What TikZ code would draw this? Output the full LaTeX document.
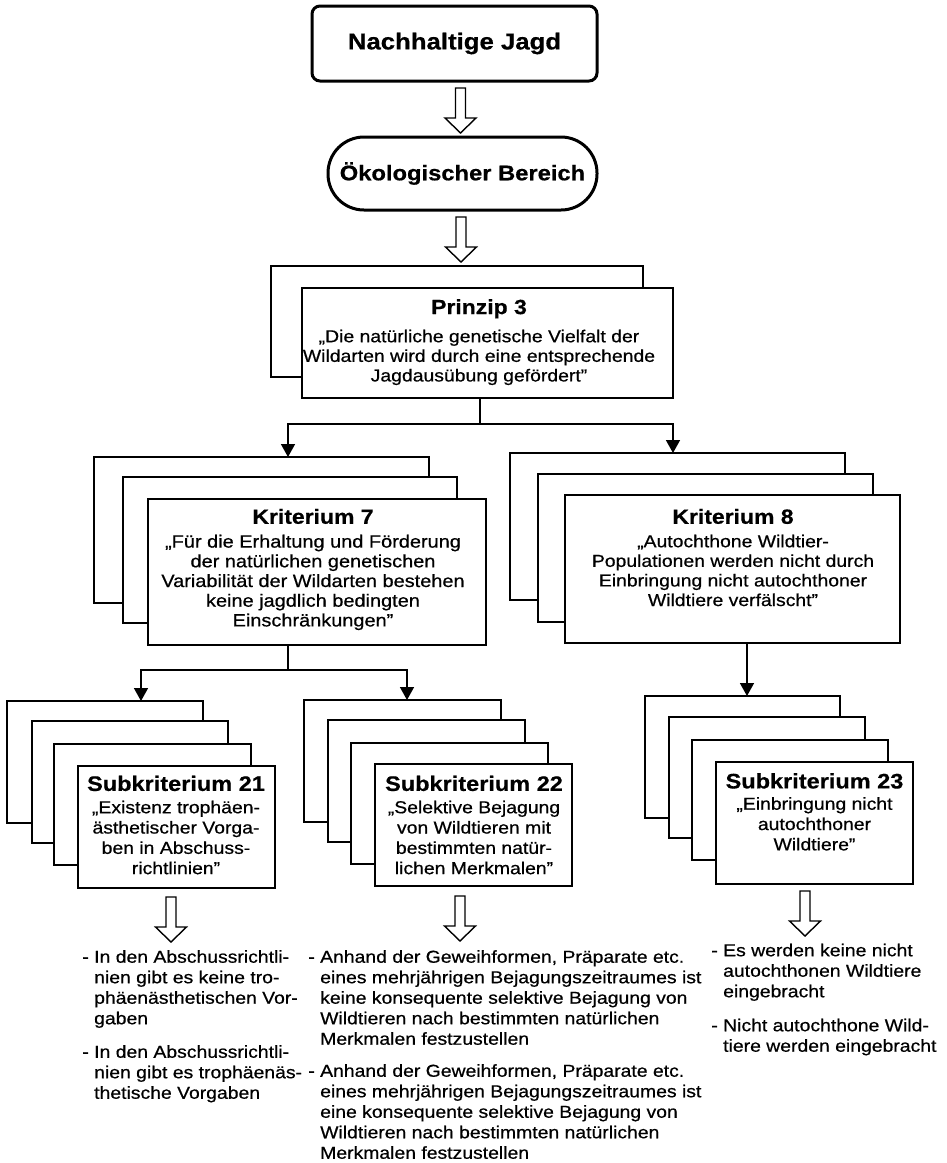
\documentclass[tikz,border=0pt]{standalone}
\usepackage{fontspec}
\setmainfont{Liberation Sans}[FakeStretch=1.12, FakeBold=0.6]
\usetikzlibrary{arrows.meta}
\begin{document}
\begin{tikzpicture}[x=1pt,y=-1pt,
  stk/.style={draw, line width=2.6pt, fill=white, inner sep=0pt, outer sep=0pt, anchor=north west},
  conn/.style={line width=1.5pt},
  arr/.style={conn, -{Triangle[width=14pt,length=13pt]}},
  ttl/.style={font=\fontsize{20.5}{24}\selectfont\bfseries, inner sep=0pt, anchor=north},
  sttl/.style={font=\fontsize{21}{24}\selectfont\bfseries, inner sep=0pt, anchor=north},
  bodyt/.style={font=\fontsize{17.3}{19.6}\selectfont, align=center, inner sep=0pt, anchor=north},
  subbody/.style={bodyt, font=\fontsize{17.3}{20.3}\selectfont},
  listt/.style={font=\fontsize{17.3}{20.5}\selectfont, align=left, inner sep=0pt, anchor=north west},
  hollowline/.style={line width=1.4pt, line join=miter, fill=white},
  hollowdown/.pic={\draw[hollowline] (-5,0) -- (-5,30) -- (-15.5,30) -- (0,45) -- (15.5,30) -- (5,30) -- (5,0) -- cycle;}
]
\fill[white] (0,0) rectangle (946,1163);
\useasboundingbox (0,0) rectangle (946,1163);

% top
\node[draw, rounded corners=8pt, line width=3pt, minimum width=285pt, minimum height=75pt,
      font=\fontsize{23}{27}\selectfont\bfseries] (nj) at (454.5,43.5) {Nachhaltige Jagd};
\pic (ha1) at (460.5,88) {hollowdown};
\node[draw, rounded corners=36pt, line width=3pt, minimum width=269pt, minimum height=73pt,
      font=\fontsize{21.2}{25}\selectfont\bfseries] (ob) at (462.5,173.5) {Ökologischer Bereich};
\pic (ha2) at (461,217) {hollowdown};

% Prinzip 3
\node[stk, minimum width=372pt, minimum height=111pt] (p3b) at (271,266) {};
\node[stk, minimum width=371pt, minimum height=110pt] (p3f) at (302,288) {};
\node[ttl] (p3t) at (479,299) {Prinzip 3};
\node[bodyt] (p3x) at (479,329.5) {„Die natürliche genetische Vielfalt der\\Wildarten wird durch eine entsprechende\\Jagdausübung gefördert"};

% Kriterium 7
\node[stk, minimum width=335pt, minimum height=146pt] (k7a) at (94,457) {};
\node[stk, minimum width=334pt, minimum height=146pt] (k7b) at (123,477) {};
\node[stk, minimum width=338pt, minimum height=146pt] (k7f) at (148,499) {};
\node[ttl] (k7t) at (313,508.7) {Kriterium 7};
\node[bodyt, font=\fontsize{17.8}{19.7}\selectfont] (k7x) at (313,534.5) {„Für die Erhaltung und Förderung\\der natürlichen genetischen\\Variabilität der Wildarten bestehen\\keine jagdlich bedingten\\Einschränkungen"};

% Kriterium 8
\node[stk, minimum width=335pt, minimum height=147pt] (k8a) at (510,453) {};
\node[stk, minimum width=335pt, minimum height=148pt] (k8b) at (538,474) {};
\node[stk, minimum width=335pt, minimum height=148pt] (k8f) at (565,495) {};
\node[ttl] (k8t) at (733,508.7) {Kriterium 8};
\node[bodyt] (k8x) at (733,534.5) {„Autochthone Wildtier-\\Populationen werden nicht durch\\Einbringung nicht autochthoner\\Wildtiere verfälscht"};

% connectors Prinzip -> Kriterien
\coordinate (pj) at (480,424);
\coordinate (k7in) at (288,457);
\coordinate (k8in) at (673,453);
\draw[conn] (p3f.south -| pj) -- (pj);
\draw[arr] (pj) -| (k7in);
\draw[arr] (pj) -| (k8in);

% Subkriterium 21
\node[stk, minimum width=196pt, minimum height=122pt] (s21a) at (7,701) {};
\node[stk, minimum width=196pt, minimum height=122pt] (s21b) at (32,721) {};
\node[stk, minimum width=197pt, minimum height=121pt] (s21c) at (54,744) {};
\node[stk, minimum width=197pt, minimum height=122pt] (s21f) at (78,766) {};
\node[sttl] (s21t) at (176,775.5) {Subkriterium 21};
\node[subbody] (s21x) at (176,800.5) {„Existenz trophäen-\\ästhetischer Vorga-\\ben in Abschuss-\\richtlinien"};

% Subkriterium 22
\node[stk, minimum width=197pt, minimum height=122pt] (s22a) at (304,700) {};
\node[stk, minimum width=197pt, minimum height=122pt] (s22b) at (328,720) {};
\node[stk, minimum width=197pt, minimum height=121pt] (s22c) at (351,743) {};
\node[stk, minimum width=197pt, minimum height=122pt] (s22f) at (375,764) {};
\node[sttl] (s22t) at (474,775.5) {Subkriterium 22};
\node[subbody] (s22x) at (474,800.5) {„Selektive Bejagung\\von Wildtieren mit\\bestimmten natür-\\lichen Merkmalen"};

% Subkriterium 23
\node[stk, minimum width=195pt, minimum height=122pt] (s23a) at (645,696) {};
\node[stk, minimum width=196pt, minimum height=121pt] (s23b) at (669,717) {};
\node[stk, minimum width=196pt, minimum height=120pt] (s23c) at (692,740) {};
\node[stk, minimum width=197pt, minimum height=122pt] (s23f) at (716,762) {};
\node[sttl] (s23t) at (814.5,773) {Subkriterium 23};
\node[subbody] (s23x) at (814.5,797) {„Einbringung nicht\\autochthoner\\Wildtiere"};

% connectors Kriterium 7 -> Sub 21/22
\coordinate (kj) at (288,670);
\coordinate (s21in) at (141,701);
\coordinate (s22in) at (407,700);
\draw[conn] (k7f.south -| kj) -- (kj);
\draw[arr] (kj) -| (s21in);
\draw[arr] (kj) -| (s22in);
% Kriterium 8 -> Sub 23
\coordinate (s23in) at (747,696);
\draw[arr] (k8f.south -| s23in) -- (s23in);

% hollow arrows below
\pic (ha3) at (171,897) {hollowdown};
\pic (ha4) at (460,896) {hollowdown};
\pic (ha5) at (805,891) {hollowdown};

% lists
\node[listt] (l1) at (94,950) {\llap{- }In den Abschussrichtli-\\nien gibt es keine tro-\\phäenästhetischen Vor-\\gaben};
\node[listt] (l2) at (94,1045) {\llap{- }In den Abschussrichtli-\\nien gibt es trophäenäs-\\thetische Vorgaben};
\node[listt] (m1) at (320,950) {\llap{- }Anhand der Geweihformen, Präparate etc.\\eines mehrjährigen Bejagungszeitraumes ist\\keine konsequente selektive Bejagung von\\Wildtieren nach bestimmten natürlichen\\Merkmalen festzustellen};
\node[listt] (m2) at (320,1064) {\llap{- }Anhand der Geweihformen, Präparate etc.\\eines mehrjährigen Bejagungszeitraumes ist\\eine konsequente selektive Bejagung von\\Wildtieren nach bestimmten natürlichen\\Merkmalen festzustellen};
\node[listt] (r1) at (723,943.5) {\llap{- }Es werden keine nicht\\autochthonen Wildtiere\\eingebracht};
\node[listt] (r2) at (723,1018.5) {\llap{- }Nicht autochthone Wild-\\tiere werden eingebracht};
\end{tikzpicture}
\end{document}
